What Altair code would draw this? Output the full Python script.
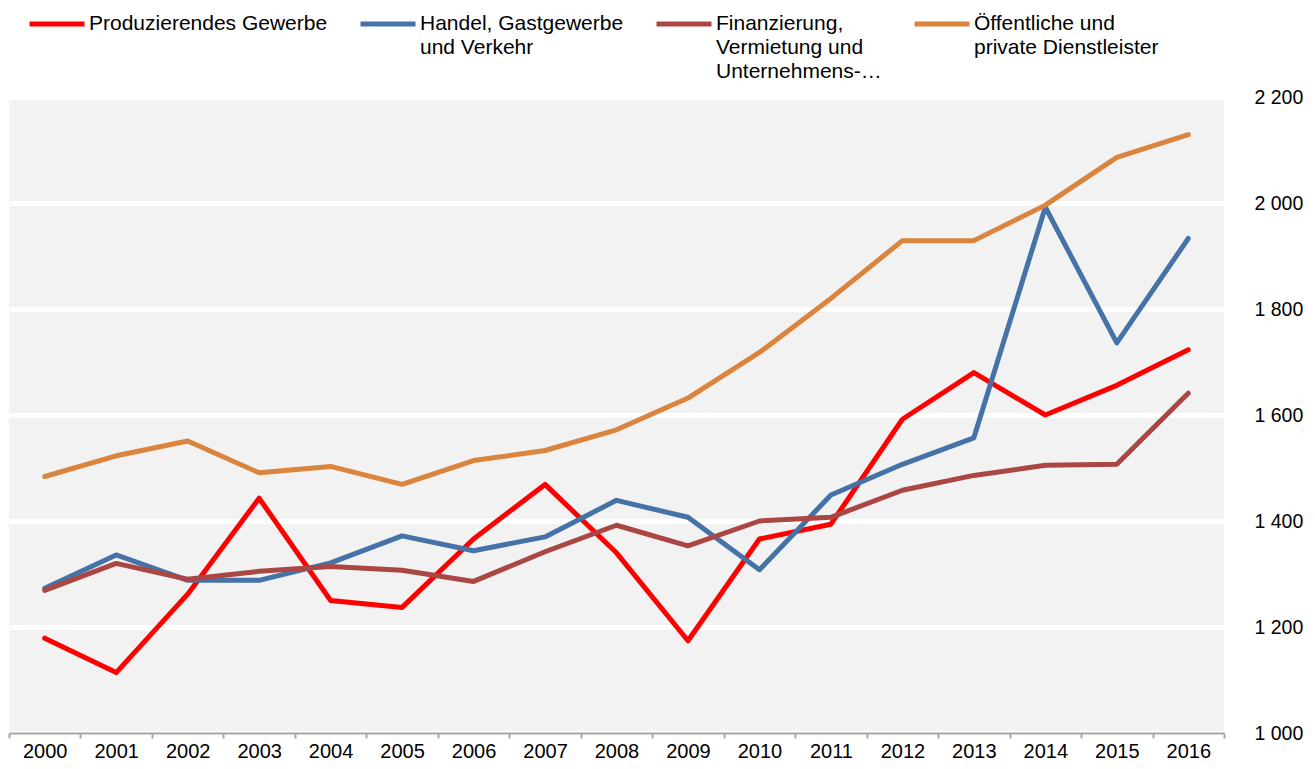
import altair as alt
import pandas as pd

years = [str(y) for y in range(2000, 2017)]

series = [
    "Produzierendes Gewerbe",
    "Handel, Gastgewerbe|und Verkehr",
    "Finanzierung,|Vermietung und|Unternehmens-…",
    "Öffentliche und|private Dienstleister",
]
colors = ["#FF0000", "#4572A7", "#AA4643", "#DB843D"]

produzierendes = [1179, 1114, 1262, 1443, 1250, 1237, 1366, 1469, 1340, 1174,
                  1366, 1394, 1592, 1680, 1600, 1656, 1723]
handel = [1273, 1336, 1288, 1288, 1321, 1372, 1344, 1370, 1439, 1407,
          1308, 1449, 1507, 1557, 1992, 1736, 1933]
finanzierung = [1269, 1320, 1290, 1305, 1314, 1307, 1286, 1342, 1392, 1353,
                1400, 1407, 1458, 1486, 1505, 1507, 1641]
oeffentlich = [1484, 1523, 1551, 1491, 1503, 1469, 1514, 1533, 1572, 1632,
               1718, 1820, 1929, 1929, 1996, 2086, 2129]

y_ticks = [1000, 1200, 1400, 1600, 1800, 2000, 2200]

rows = []
for name, vals in zip(series, [produzierendes, handel, finanzierung, oeffentlich]):
    for yr, v in zip(years, vals):
        rows.append({"Jahr": yr, "Wert": v, "Serie": name})
df = pd.DataFrame(rows)

FONT = "Liberation Sans"

# pad every legend label to 3 lines so all legend entries share one height
legend_label_expr = (
    "split(datum.label + "
    "(length(split(datum.label, '|')) == 1 ? '||' : "
    "(length(split(datum.label, '|')) == 2 ? '|' : '')), '|')"
)

chart = alt.Chart(df).mark_line(strokeWidth=5, strokeJoin="round", strokeCap="round").encode(
    x=alt.X("Jahr:N", sort=years, title=None,
            scale=alt.Scale(paddingInner=0, paddingOuter=0),
            axis=alt.Axis(tickBand="extent", labelAngle=0, grid=False,
                          domainColor="#A6A6A6", domainWidth=2,
                          tickColor="#A6A6A6", tickWidth=2, tickSize=5,
                          labelPadding=3, labelFontSize=20, labelFont=FONT,
                          labelColor="#000000")),
    y=alt.Y("Wert:Q", title=None,
            scale=alt.Scale(domain=[1000, 2200], nice=False, zero=False),
            axis=alt.Axis(orient="right", values=y_ticks, ticks=False, domain=False,
                          grid=True, gridColor="#FFFFFF", gridWidth=5,
                          labelPadding=30, labelFontSize=19.5, labelFont=FONT,
                          labelColor="#000000",
                          labelExpr="replace(format(datum.value, ','), ',', ' ')")),
    color=alt.Color("Serie:N", sort=series,
                    scale=alt.Scale(domain=series, range=colors),
                    legend=alt.Legend(title=None, orient="none", legendX=18, legendY=-103,
                                      direction="horizontal", columns=4, columnPadding=22,
                                      symbolType="stroke", symbolSize=3025,
                                      symbolStrokeWidth=5, labelFontSize=21, labelFont=FONT,
                                      labelColor="#000000", labelBaseline="middle",
                                      labelOffset=2, labelLimit=400,
                                      labelExpr=legend_label_expr)),
).properties(
    width=1215, height=636,
    autosize=alt.AutoSizeParams(type="none"),
    padding={"left": 1, "top": 89, "right": 83, "bottom": 28},
).configure(
    view=alt.ViewConfig(fill="#F2F2F2", stroke=None),
    style={"guide-label": {"lineHeight": 24}},
)

chart.save("out.html", embed_options={"renderer": "svg", "actions": False})
